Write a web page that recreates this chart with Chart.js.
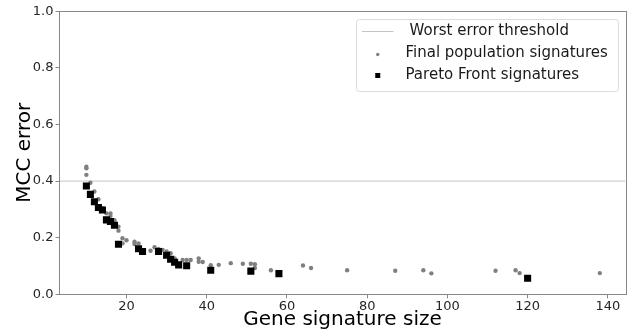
<!DOCTYPE html>
<html>
<head>
<meta charset="utf-8">
<script src="https://cdn.jsdelivr.net/npm/chart.js@4/dist/chart.umd.min.js"></script>
<style>
  html, body { margin: 0; padding: 0; background: #fff; }
  canvas { display: block; }
</style>
</head>
<body>
<canvas id="myChart" width="639" height="332"></canvas>
<script>
// axis ticks and limits
const xTickValues = [20, 40, 60, 80, 100, 120, 140];
const yTickValues = [0, 0.2, 0.4, 0.6, 0.8, 1.0];
const xLimits     = [3.3, 144.4];
const yLimits     = [0, 1];

// horizontal threshold
const thresholdValue = 0.4;

// final population (grey dots)
const populationSizes  = [10, 10, 10, 11, 12, 13, 14, 15, 16, 16, 17, 18, 18, 19, 19, 20, 22, 22, 23,
                          26, 27, 28, 29, 30, 31, 32, 34, 35, 36, 38, 38, 39, 41, 43, 46, 49, 51, 52, 52,
                          56, 64, 66, 75, 87, 94, 96, 112, 117, 118, 138];
const populationErrors = [0.451, 0.445, 0.422, 0.394, 0.363, 0.336, 0.304, 0.286, 0.286, 0.277, 0.262, 0.239, 0.225, 0.198, 0.180, 0.191, 0.186, 0.178, 0.180,
                          0.154, 0.166, 0.160, 0.157, 0.151, 0.145, 0.127, 0.121, 0.121, 0.121, 0.127, 0.115, 0.114, 0.103, 0.104, 0.110, 0.108, 0.108, 0.106, 0.093,
                          0.085, 0.102, 0.093, 0.085, 0.083, 0.085, 0.074, 0.083, 0.085, 0.075, 0.075];

// pareto front (black squares)
const paretoSizes  = [10, 11, 12, 13, 14, 15, 16, 17, 18, 23, 24, 28, 30, 31, 32, 33, 35, 41, 51, 58, 120];
const paretoErrors = [0.383, 0.353, 0.327, 0.307, 0.298, 0.263, 0.257, 0.244, 0.177, 0.161, 0.151, 0.151, 0.138, 0.124, 0.113, 0.104, 0.101, 0.085, 0.082, 0.073, 0.057];

const legendLabels = ["Worst error threshold", "Final population signatures", "Pareto Front signatures"];

const toPoints = (xs, ys) => xs.map((x, i) => ({ x: x, y: ys[i] }));

const FONT = "'DejaVu Sans', sans-serif";

// frame round the plot area plus a matplotlib style legend
const framePlugin = {
    id: "frame",
    beforeDraw(chart) {
        const ctx = chart.ctx;
        ctx.save();
        ctx.fillStyle = "#fff";
        ctx.fillRect(0, 0, chart.width, chart.height);
        ctx.restore();
    },
    afterDraw(chart) {
        const ctx = chart.ctx;
        const a   = chart.chartArea;
        ctx.save();
        ctx.strokeStyle = "#888";
        ctx.lineWidth   = 1;
        ctx.strokeRect(Math.round(a.left) - 0.5, Math.round(a.top) + 0.5,
                       Math.round(a.right) - Math.round(a.left) + 1, Math.round(a.bottom) - Math.round(a.top));

        // legend box
        const right = a.right - 7.5, top = a.top + 8;
        const w = 262, h = 72;
        const left = right - w;
        ctx.beginPath();
        ctx.roundRect(Math.round(left) + 0.5, Math.round(top) + 0.5, w, h, 3);
        ctx.fillStyle = "rgba(255,255,255,0.8)";
        ctx.fill();
        ctx.strokeStyle = "#dcdcdc";
        ctx.stroke();

        const hx0 = left + 6, hx1 = hx0 + 31.5, hxc = (hx0 + hx1) / 2;
        const rows = [top + 12, top + 34.2, top + 56.2];
        const ds = chart.data.datasets;

        // line handle
        ctx.strokeStyle = ds[0].borderColor;
        ctx.lineWidth = 1;
        ctx.beginPath();
        ctx.moveTo(hx0, Math.round(rows[0]) + 0.5);
        ctx.lineTo(hx1, Math.round(rows[0]) + 0.5);
        ctx.stroke();
        // dot handle
        ctx.fillStyle = ds[1].backgroundColor;
        ctx.beginPath();
        ctx.arc(hxc, rows[1] + 1, 1.7, 0, Math.PI * 2);
        ctx.fill();
        // square handle
        ctx.fillStyle = ds[2].backgroundColor;
        ctx.fillRect(hxc - 2.5, rows[2] - 2.5, 5, 5);

        ctx.fillStyle = "#1a1a1a";
        ctx.font = "15px " + FONT;
        ctx.textBaseline = "middle";
        ctx.textAlign = "left";
        ctx.fillText(legendLabels[0], hx1 + 16, rows[0]);
        ctx.fillText(legendLabels[1], hx1 + 12, rows[1]);
        ctx.fillText(legendLabels[2], hx1 + 12, rows[2]);
        ctx.restore();
    }
};

new Chart(document.getElementById("myChart").getContext("2d"), {
    type: "scatter",
    data: {
        datasets: [
            {
                label          : legendLabels[0],
                data           : [{ x: xLimits[0], y: thresholdValue }, { x: xLimits[1], y: thresholdValue }],
                showLine       : true,
                borderColor    : "#c4c4c4",
                backgroundColor: "#c4c4c4",
                borderWidth    : 1,
                pointRadius    : 0,
                order          : 3
            },
            {
                label          : legendLabels[1],
                data           : toPoints(populationSizes, populationErrors),
                backgroundColor: "#808080",
                borderWidth    : 0,
                pointRadius    : 2.2,
                order          : 2
            },
            {
                label          : legendLabels[2],
                data           : toPoints(paretoSizes, paretoErrors),
                backgroundColor: "#000",
                borderWidth    : 0,
                pointStyle     : "rect",
                pointRadius    : 5,
                order          : 1
            }
        ]
    },
    options: {
        responsive: false,
        animation : false,
        devicePixelRatio: 1,
        layout: { padding: { top: 11.3, right: 13.5, bottom: 0, left: 0 } },
        plugins: {
            legend : { display: false },
            tooltip: { enabled: false }
        },
        scales: {
            x: {
                type: "linear",
                min : xLimits[0],
                max : xLimits[1],
                afterBuildTicks: s => { s.ticks = xTickValues.map(v => ({ value: v })); },
                afterFit: s => { s.height = 37.7; },
                border: { display: false },
                grid  : { drawOnChartArea: false, drawTicks: true, tickLength: 4, color: "#888" },
                ticks : {
                    font: { family: FONT, size: 13 }, color: "#262626",
                    padding: 1, maxRotation: 0, autoSkip: false,
                    callback: v => String(v)
                },
                title: {
                    display: true, text: "Gene signature size",
                    font: { family: FONT, size: 20 }, color: "#000",
                    padding: { top: 0, bottom: 0 }
                }
            },
            y: {
                min: yLimits[0],
                max: yLimits[1],
                afterBuildTicks: s => { s.ticks = yTickValues.map(v => ({ value: v })); },
                afterFit: s => { s.width = 59.5; },
                border: { display: false },
                grid  : { drawOnChartArea: false, drawTicks: true, tickLength: 4, color: "#888" },
                ticks : {
                    font: { family: FONT, size: 13 }, color: "#262626",
                    padding: 2,
                    callback: v => v.toFixed(1)
                },
                title: {
                    display: true, text: "MCC error",
                    font: { family: FONT, size: 20 }, color: "#000",
                    padding: { top: 13, bottom: 0 }
                }
            }
        }
    },
    plugins: [framePlugin]
});
</script>
</body>
</html>
